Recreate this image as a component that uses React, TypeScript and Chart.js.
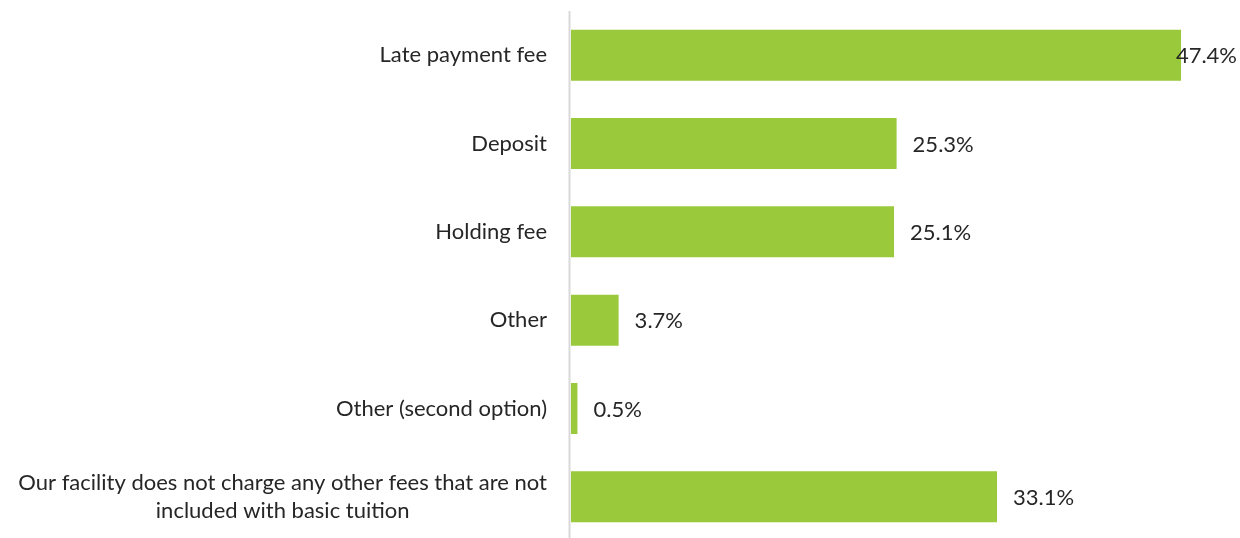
import React, { useEffect, useRef } from "react";
import { Chart, registerables } from "chart.js";

Chart.register(...registerables);

const categories: (string | string[])[] = [
  "Late payment fee",
  "Deposit",
  "Holding fee",
  "Other",
  "Other (second option)",
  ["Our facility does not charge any other fees that are not", "included with basic tuition"],
];
const values: number[] = [47.4, 25.3, 25.1, 3.7, 0.5, 33.1];
const valueLabels: string[] = ["47.4%", "25.3%", "25.1%", "3.7%", "0.5%", "33.1%"];

const FONT = "Lato, 'Open Sans', sans-serif";
const TEXT = "#262626";

const labelPlugin = {
  id: "customLabels",
  afterDatasetsDraw(chart: any) {
    const { ctx, chartArea } = chart;
    const meta = chart.getDatasetMeta(0);
    ctx.save();
    // axis line
    ctx.strokeStyle = "#d9d9d9";
    ctx.lineWidth = 2;
    ctx.beginPath();
    ctx.moveTo(chartArea.left - 1.5, chartArea.top);
    ctx.lineTo(chartArea.left - 1.5, chart.height);
    ctx.stroke();

    ctx.font = `22px ${FONT}`;
    ctx.fillStyle = TEXT;
    ctx.textBaseline = "middle";
    const lineH = 28;
    meta.data.forEach((bar: any, i: number) => {
      const y = bar.y;
      // category label
      const cat = categories[i];
      const lines = Array.isArray(cat) ? cat : [cat];
      const rightX = chartArea.left - 24;
      const widths = lines.map((l) => ctx.measureText(l).width);
      const maxW = Math.max(...widths);
      lines.forEach((l, j) => {
        const ly = y + (j - (lines.length - 1) / 2) * lineH;
        ctx.textAlign = "center";
        ctx.fillText(l, rightX - maxW / 2, ly);
      });
      // value label
      const txt = valueLabels[i];
      const tw = ctx.measureText(txt).width;
      let x = bar.x + 16;
      if (x + tw > chart.width - 3) x = chart.width - 3 - tw;
      ctx.textAlign = "left";
      ctx.fillText(txt, x, y + 1);
    });
    ctx.restore();
  },
};

export default function App() {
  const ref = useRef<HTMLCanvasElement>(null);
  useEffect(() => {
    document.body.style.margin = "0";
    document.body.style.overflow = "hidden";
    const chart = new Chart(ref.current!, {
      type: "bar",
      data: {
        labels: categories.map((c) => (Array.isArray(c) ? c.join(" ") : c)),
        datasets: [
          {
            data: values,
            backgroundColor: "#9aca3c",
            borderWidth: 0,
            categoryPercentage: 1,
            barPercentage: 0.577,
          },
        ],
      },
      options: {
        indexAxis: "y",
        animation: false,
        responsive: false,
        maintainAspectRatio: false,
        layout: { padding: { left: 571, right: 25.5, top: 11, bottom: 4 } },
        plugins: { legend: { display: false }, tooltip: { enabled: false } },
        scales: {
          x: { display: false, min: 0, max: 50 },
          y: { display: false },
        },
      },
      plugins: [labelPlugin],
    });
    return () => chart.destroy();
  }, []);
  return (
    <div style={{ width: 1240, height: 545 }}>
      <canvas ref={ref} width={1240} height={545} />
    </div>
  );
}
